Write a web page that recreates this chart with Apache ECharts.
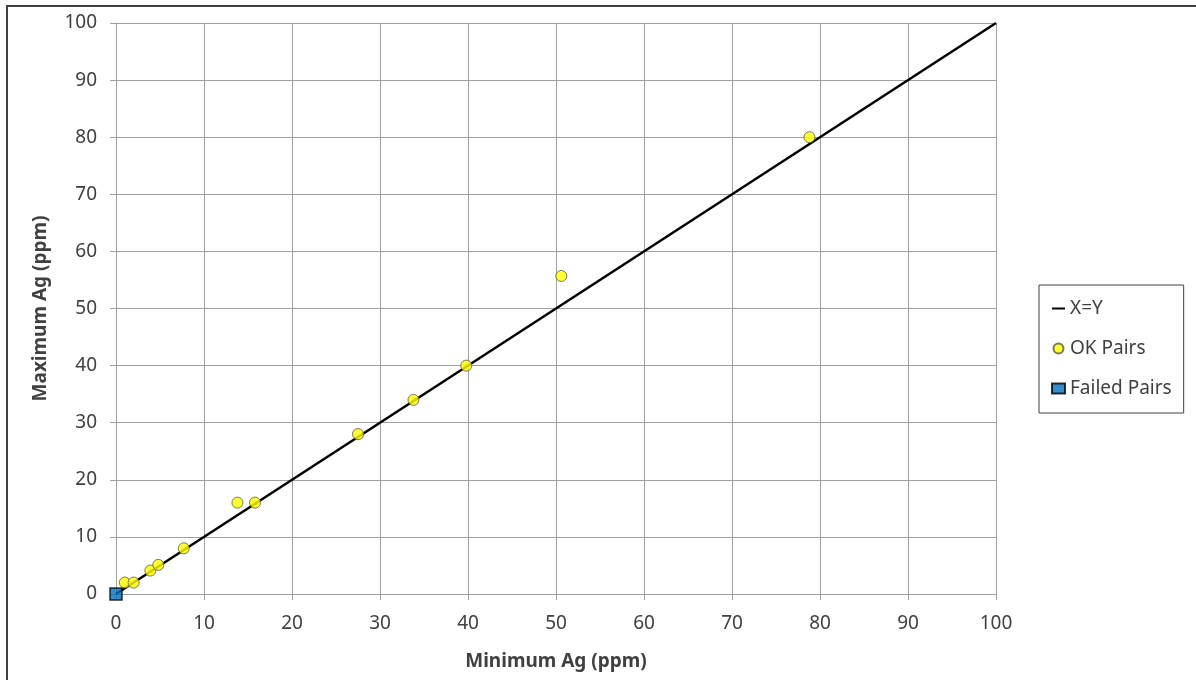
<!DOCTYPE html>
<html>
<head>
<meta charset="utf-8">
<script src="https://cdn.jsdelivr.net/npm/echarts@6/dist/echarts.min.js"></script>
<style>
  html, body { margin: 0; padding: 0; background: #ffffff; }
  #chart { width: 1196px; height: 680px; }
</style>
</head>
<body>
<div id="chart"></div>
<script>
// Duplicate assay pairs: minimum vs maximum Ag (ppm)
const okMin = [1, 2, 3.9, 4.8, 7.7, 13.8, 15.8, 27.5, 33.8, 39.8, 50.6, 78.8];
const okMax = [2, 2, 4.1, 5.1, 8, 16, 16, 28, 34, 40, 55.7, 80];
const failedMin = [0];
const failedMax = [0];
const refLineX = [0, 100];
const refLineY = [0, 100];

const font = 'Noto Sans';
const textColor = '#404040';

const chart = echarts.init(document.getElementById('chart'));
chart.setOption({
  animation: false,
  backgroundColor: '#ffffff',
  grid: { left: 116, right: 200, top: 23, bottom: 86, containLabel: false },
  graphic: [{
    type: 'rect',
    shape: { x: 7, y: 6, width: 1200, height: 690 },
    style: { fill: 'none', stroke: '#404040', lineWidth: 2 },
    silent: true,
    z: -1
  }],
  legend: {
    orient: 'vertical',
    left: 1039,
    top: 285,
    padding: [14, 12, 15, 12],
    itemGap: 21,
    itemWidth: 13,
    itemHeight: 10,
    borderColor: '#404040',
    borderWidth: 1,
    textStyle: { fontFamily: font, fontSize: 19, color: textColor, padding: [0, 0, 0, 0] },
    data: [
      { name: 'X=Y', icon: 'path://M0,4 L13,4 L13,6 L0,6 Z', itemStyle: { color: '#000000' } },
      { name: 'OK Pairs', icon: 'circle' },
      { name: 'Failed Pairs', icon: 'rect' }
    ]
  },
  xAxis: {
    type: 'value', min: 0, max: 100, interval: 10,
    name: 'Minimum Ag (ppm)', nameLocation: 'middle', nameGap: 58,
    nameTextStyle: { fontFamily: font, fontSize: 19, fontWeight: 'bold', color: textColor },
    axisLine: { show: true, onZero: false, lineStyle: { color: '#a0a0a0', width: 1 } },
    axisTick: { show: true, length: 6, lineStyle: { color: '#a0a0a0' } },
    axisLabel: { fontFamily: font, fontSize: 19, color: textColor, margin: 20 },
    splitLine: { show: true, lineStyle: { color: '#a0a0a0', width: 1 } }
  },
  yAxis: {
    type: 'value', min: 0, max: 100, interval: 10,
    name: 'Maximum Ag (ppm)', nameLocation: 'middle', nameGap: 66,
    nameTextStyle: { fontFamily: font, fontSize: 19, fontWeight: 'bold', color: textColor },
    axisLine: { show: true, onZero: false, lineStyle: { color: '#a0a0a0', width: 1 } },
    axisTick: { show: true, length: 6, lineStyle: { color: '#a0a0a0' } },
    axisLabel: { fontFamily: font, fontSize: 19, color: textColor, margin: 19 },
    splitLine: { show: true, lineStyle: { color: '#a0a0a0', width: 1 } }
  },
  series: [
    {
      name: 'X=Y',
      type: 'line',
      data: refLineX.map((x, i) => [x, refLineY[i]]),
      showSymbol: false,
      symbol: 'none',
      lineStyle: { color: '#000000', width: 2.5 },
      itemStyle: { color: '#000000' },
      z: 2
    },
    {
      name: 'OK Pairs',
      type: 'scatter',
      data: okMin.map((x, i) => [x, okMax[i]]),
      symbol: 'circle',
      symbolSize: 11,
      itemStyle: { color: '#ffff00', borderColor: '#5a5a3a', borderWidth: 1 },
      z: 3
    },
    {
      name: 'Failed Pairs',
      type: 'scatter',
      data: failedMin.map((x, i) => [x, failedMax[i]]),
      symbol: 'rect',
      symbolSize: 12,
      itemStyle: { color: '#0070c0', borderColor: '#000000', borderWidth: 1.5 },
      z: 4
    }
  ]
});
</script>
</body>
</html>
